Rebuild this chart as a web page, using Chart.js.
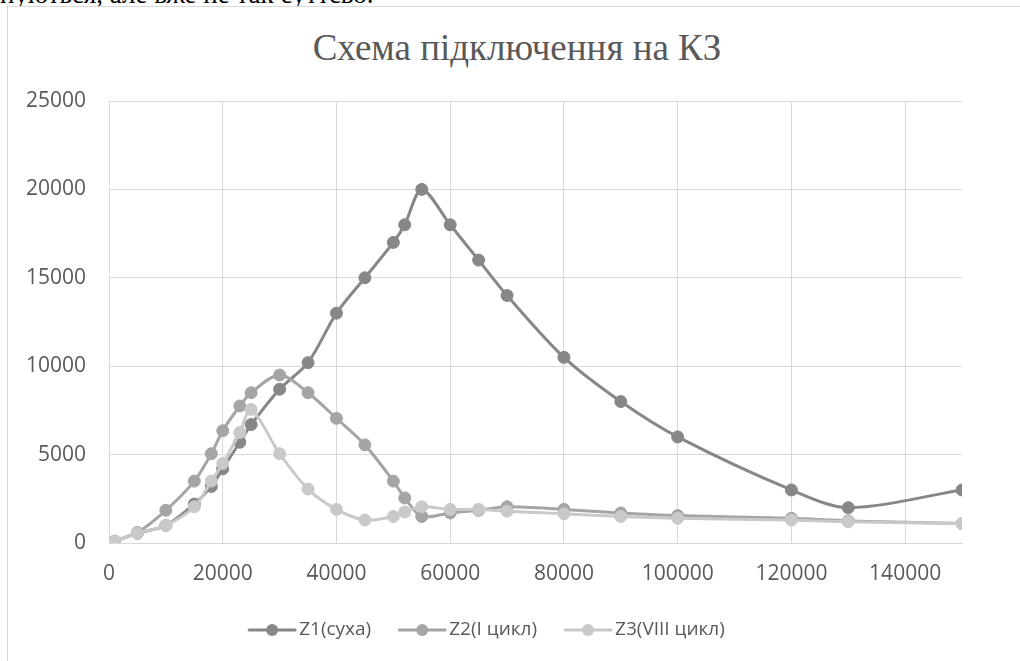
<!DOCTYPE html>
<html>
<head>
<meta charset="utf-8">
<script src="https://cdn.jsdelivr.net/npm/chart.js@4.4.1/dist/chart.umd.min.js"></script>
<style>
  html, body { margin: 0; padding: 0; background: #fff; overflow: hidden; }
  body { width: 1020px; height: 661px; position: relative; }
  .doc-text {
    position: absolute; left: 0; top: -19px;
    font: 27px/27px "Liberation Serif", serif; color: #000; white-space: nowrap;
  }
  .frame {
    position: absolute; left: 7px; top: 6px; width: 1100px; height: 700px;
    border: 1px solid #d9d9d9; box-sizing: border-box; background: #fff;
  }
  .title {
    position: absolute; left: 217px; width: 600px; top: 26px; text-align: center;
    font: 37px/44px "Liberation Serif", serif; color: #595959; white-space: nowrap;
  }
  #wrap { position: absolute; left: 0; top: 0; width: 1020px; height: 661px; }
</style>
</head>
<body>
<div class="doc-text">нуються, але вже не так суттєво.</div>
<div class="frame"></div>
<div class="title">Схема підключення на КЗ</div>
<div id="wrap"><canvas id="chart"></canvas></div>
<script>
// струм, A (вісь X)
const xValues = [1000, 5000, 10000, 15000, 18000, 20000, 23000, 25000, 30000, 35000, 40000, 45000,
                 50000, 52000, 55000, 60000, 65000, 70000, 80000, 90000, 100000, 120000, 130000, 150000];

const z1 = [100, 550, 1000, 2200, 3200, 4200, 5700, 6700, 8700, 10200, 13000, 15000,
            17000, 18000, 20000, 18000, 16000, 14000, 10500, 8000, 6000, 3000, 2000, 3000];
const z2 = [100, 600, 1850, 3500, 5050, 6350, 7750, 8500, 9500, 8500, 7050, 5550,
            3500, 2550, 1500, 1700, 1850, 2050, 1900, 1700, 1550, 1400, 1250, 1100];
const z3 = [100, 550, 1000, 2050, 3500, 4500, 6250, 7550, 5050, 3050, 1900, 1300,
            1500, 1750, 2050, 1900, 1900, 1800, 1650, 1500, 1400, 1300, 1200, 1100];

const seriesNames = ['Z1(суха)', 'Z2(I цикл)', 'Z3(VIII цикл)'];
const seriesColors = ['#878787', '#a5a5a5', '#c9c9c9'];

const xTicks = [0, 20000, 40000, 60000, 80000, 100000, 120000, 140000];
const yTicks = [0, 5000, 10000, 15000, 20000, 25000];

const TXT = '#595959';
const GRID = '#d9d9d9';

const toPoints = ys => xValues.map((x, i) => ({ x, y: ys[i] }));

// легенда в стилі Excel: лінія з маркером посередині
const lineLegend = {
  id: 'lineLegend',
  afterDraw(chart) {
    const ctx = chart.ctx;
    const y = 630, lineW = 46, gap = 28, textGap = 4;
    ctx.save();
    ctx.font = '19px "Open Sans"';
    ctx.textBaseline = 'middle';
    const items = chart.data.datasets.map(ds => ({ ds, w: lineW + textGap + ctx.measureText(ds.label).width }));
    const total = items.reduce((s, it) => s + it.w, 0) + gap * (items.length - 1);
    let x = 487 - total / 2;
    items.forEach(it => {
      const c = it.ds.borderColor;
      ctx.strokeStyle = c;
      ctx.lineWidth = 3;
      ctx.lineCap = 'round';
      ctx.beginPath();
      ctx.moveTo(x, y);
      ctx.lineTo(x + lineW, y);
      ctx.stroke();
      ctx.fillStyle = c;
      ctx.beginPath();
      ctx.arc(x + lineW / 2, y, 6, 0, Math.PI * 2);
      ctx.fill();
      ctx.fillStyle = TXT;
      ctx.fillText(it.ds.label, x + lineW + textGap, y);
      x += it.w + gap;
    });
    ctx.restore();
  }
};

const datasets = [z1, z2, z3].map((ys, i) => ({
  label: seriesNames[i],
  data: toPoints(ys),
  borderColor: seriesColors[i],
  backgroundColor: seriesColors[i],
  pointBackgroundColor: seriesColors[i],
  pointBorderColor: seriesColors[i],
  borderWidth: 3,
  pointRadius: 6,
  pointBorderWidth: 1,
  pointHoverRadius: 6,
  tension: 0.3,
  order: 3 - i,
}));

new Chart(document.getElementById('chart'), {
  type: 'line',
  data: { datasets },
  plugins: [lineLegend],
  options: {
    responsive: true,
    maintainAspectRatio: false,
    animation: false,
    events: [],
    layout: { padding: { left: 0, right: 58, top: 101, bottom: 0 } },
    plugins: {
      legend: { display: false },
      tooltip: { enabled: false },
      title: { display: false },
    },
    scales: {
      x: {
        type: 'linear',
        min: 0,
        max: 150000,
        afterBuildTicks: s => { s.ticks = xTicks.map(v => ({ value: v })); },
        afterFit: s => { s.height = 118; },
        ticks: { color: TXT, padding: 18, maxRotation: 0, autoSkip: false,
                 callback: v => String(v),
                 font: { family: '"Open Sans"', size: 21 } },
        grid: { color: GRID, lineWidth: 1, drawTicks: false },
        border: { display: true, color: GRID, width: 1 },
      },
      y: {
        min: 0,
        max: 25000,
        afterBuildTicks: s => { s.ticks = yTicks.map(v => ({ value: v })); },
        afterFit: s => { s.width = 109; },
        ticks: { color: TXT, padding: 23, callback: v => String(v),
                 font: { family: '"Open Sans"', size: 21 } },
        grid: { color: GRID, lineWidth: 1, drawTicks: false },
        border: { display: false },
      },
    },
  },
});
</script>
</body>
</html>
